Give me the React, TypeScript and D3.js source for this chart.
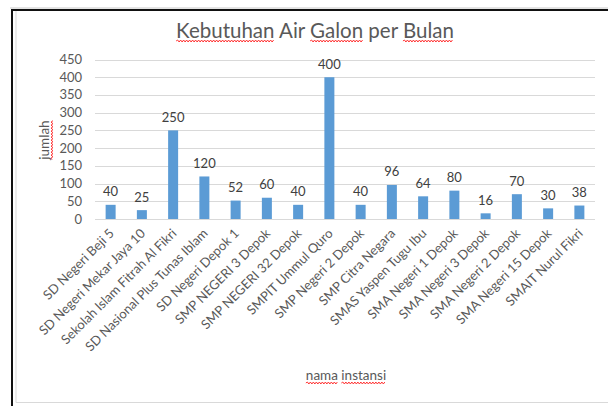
import React, { useEffect, useRef } from 'react';
import * as d3 from 'd3';

const categories = [
  'SD Negeri Beji 5',
  'SD Negeri Mekar Jaya 10',
  'Sekolah Islam Fitrah Al Fikri',
  'SD Nasional Plus Tunas Iblam',
  'SD Negeri Depok 1',
  'SMP NEGERI 3 Depok',
  'SMP NEGERI 32 Depok',
  'SMPIT Ummul Quro',
  'SMP Negeri 2 Depok',
  'SMP Citra Negara',
  'SMAS Yaspen Tugu Ibu',
  'SMA Negeri 1 Depok',
  'SMA Negeri 3 Depok',
  'SMA Negeri 2 Depok',
  'SMA Negeri 15 Depok',
  'SMAIT Nurul Fikri',
];
const values = [40, 25, 250, 120, 52, 60, 40, 400, 40, 96, 64, 80, 16, 70, 30, 38];
const yTicks = [0, 50, 100, 150, 200, 250, 300, 350, 400, 450];
const titleText = 'Kebutuhan Air Galon per Bulan';
const yTitleText = 'jumlah';
const xTitleText = 'nama instansi';
const misspelled = ['Kebutuhan', 'Galon', 'Bulan', 'jumlah', 'nama', 'instansi'];

const FONT = 'Lato, "Open Sans", sans-serif';

function wavePath(x0: number, x1: number, y: number) {
  let d = `M${x0},${y}`;
  let up = true;
  for (let x = x0 + 1.5; x <= x1; x += 1.5) {
    d += ` L${x},${up ? y - 1 : y + 1}`;
    up = !up;
  }
  return d;
}

function underline(g: any, textNode: SVGTextElement, words: string[]) {
  const s = textNode.textContent || '';
  words.forEach((w) => {
    const i = s.indexOf(w);
    if (i < 0) return;
    const p0 = textNode.getStartPositionOfChar(i);
    const p1 = textNode.getEndPositionOfChar(i + w.length - 1);
    g.append('path')
      .attr('d', wavePath(p0.x, p1.x, p0.y + 3))
      .attr('fill', 'none')
      .attr('stroke', '#ff2020')
      .attr('stroke-width', 0.9);
  });
}

export default function App() {
  const ref = useRef<SVGSVGElement>(null);
  useEffect(() => {
    const svg = d3.select(ref.current);
    svg.selectAll('*').remove();

    const x = d3.scaleBand<string>().domain(categories).range([95, 595]).paddingInner(0.68).paddingOuter(0.34);
    const y = d3.scaleLinear().domain([0, 450]).range([219, 59.5]);

    // frame
    svg.append('rect').attr('x', 0).attr('y', 0).attr('width', 608).attr('height', 406).attr('fill', '#fff');
    svg.append('line').attr('x1', 10).attr('x2', 608).attr('y1', 8).attr('y2', 8).attr('stroke', '#c8c8c8').attr('stroke-width', 1);
    svg.append('line').attr('x1', 16).attr('x2', 16).attr('y1', 11).attr('y2', 402.5).attr('stroke', '#d9d9d9').attr('stroke-width', 1);
    svg.append('line').attr('x1', 16).attr('x2', 608).attr('y1', 402.5).attr('y2', 402.5).attr('stroke', '#d9d9d9').attr('stroke-width', 1);
    svg.append('line').attr('x1', 11).attr('x2', 608).attr('y1', 10).attr('y2', 10).attr('stroke', '#111').attr('stroke-width', 2);
    svg.append('line').attr('x1', 12).attr('x2', 12).attr('y1', 9).attr('y2', 406).attr('stroke', '#111').attr('stroke-width', 2);

    // gridlines
    svg.append('g').selectAll('line').data(yTicks).join('line')
      .attr('x1', 95).attr('x2', 595)
      .attr('y1', (d) => Math.round(y(d)) + 0.5).attr('y2', (d) => Math.round(y(d)) + 0.5)
      .attr('stroke', '#d9d9d9').attr('stroke-width', 1);

    // y tick labels
    svg.append('g').selectAll('text').data(yTicks).join('text')
      .attr('x', 82).attr('y', (d) => y(d)).attr('dy', '0.35em')
      .attr('text-anchor', 'end').attr('font-family', FONT).attr('font-size', 13).attr('fill', '#595959')
      .text((d) => String(d));

    // bars
    svg.append('g').selectAll('rect').data(values).join('rect')
      .attr('x', (_d, i) => x(categories[i])!)
      .attr('width', x.bandwidth())
      .attr('y', (d) => y(d))
      .attr('height', (d) => y(0) - y(d))
      .attr('fill', '#5b9bd5');

    // data labels
    svg.append('g').selectAll('text').data(values).join('text')
      .attr('x', (_d, i) => x(categories[i])! + x.bandwidth() / 2)
      .attr('y', (d) => y(d) - 8.5)
      .attr('text-anchor', 'middle').attr('font-family', FONT).attr('font-size', 13).attr('fill', '#404040')
      .text((d) => String(d));

    // x labels
    svg.append('g').selectAll('text').data(categories).join('text')
      .attr('transform', (d) => `translate(${x(d)! + x.bandwidth() / 2 + 1},${231}) rotate(-45)`)
      .attr('text-anchor', 'end').attr('dy', '0.35em')
      .attr('font-family', FONT).attr('font-size', 13).attr('fill', '#595959')
      .text((d) => d);

    // title
    const tg = svg.append('g');
    const tt = tg.append('text').attr('x', 315).attr('y', 38).attr('text-anchor', 'middle')
      .attr('font-family', FONT).attr('font-size', 20.5).attr('fill', '#595959').text(titleText);
    underline(tg, tt.node() as SVGTextElement, misspelled);

    // y title
    const yg = svg.append('g').attr('transform', 'translate(49,140) rotate(-90)');
    const yt = yg.append('text').attr('x', 0).attr('y', 0).attr('text-anchor', 'middle')
      .attr('font-family', FONT).attr('font-size', 13.5).attr('fill', '#595959').text(yTitleText);
    underline(yg, yt.node() as SVGTextElement, misspelled);

    // x title
    const xg = svg.append('g');
    const xt = xg.append('text').attr('x', 346).attr('y', 380).attr('text-anchor', 'middle')
      .attr('font-family', FONT).attr('font-size', 13.5).attr('fill', '#595959').text(xTitleText);
    underline(xg, xt.node() as SVGTextElement, misspelled);
  }, []);
  return <svg ref={ref} width={608} height={406} style={{ position: 'absolute', left: 0, top: 0 }} />;
}
